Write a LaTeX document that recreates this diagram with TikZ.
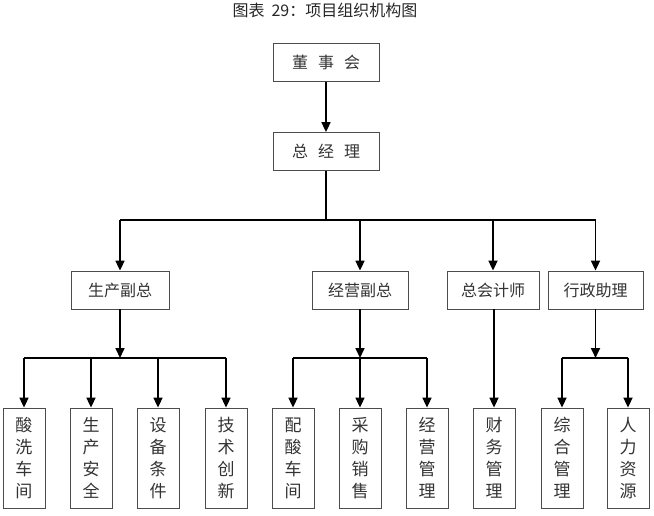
\documentclass[tikz,border=0pt]{standalone}
\usepackage{fontspec}
\setmainfont{Noto Sans CJK SC}
\usetikzlibrary{arrows.meta}

\tikzset{
  box/.style={draw=black!70, line width=0.8pt, inner sep=0pt, minimum height=38pt,
    text=black!80, font=\fontsize{16}{16}\selectfont},
  tallbox/.style={draw=black!70, line width=0.8pt, inner sep=0pt, minimum width=42pt,
    minimum height=100pt, align=center, text=black!80, font=\fontsize{17}{22}\selectfont},
  link/.style={line width=1.7pt},
  bus/.style={line width=2.3pt},
  arr/.style={line width=1.7pt, -{Triangle[length=10pt,width=9pt]}},
}

\begin{document}
\begin{tikzpicture}[x=1pt,y=-1pt]
        \useasboundingbox (0,0) rectangle (654,515);

        \node[text=black!85, font=\fontsize{16}{16}\selectfont] (title) at (325,10) {图表\hspace{7pt}29：项目组织机构图};

        \begin{scope}[every node/.style={box}]
          \node[minimum width=106pt] (dsh)  at (326,62.5)  {董\hspace{10pt}事\hspace{10pt}会};
          \node[minimum width=106pt] (zjl)  at (326,151.5) {总\hspace{10pt}经\hspace{10pt}理};
          \node[minimum width=98pt]  (scfz) at (120,290)   {生产副总};
          \node[minimum width=96pt]  (jyfz) at (360,290)   {经营副总};
          \node[minimum width=92pt]  (zkjs) at (493,290)   {总会计师};
          \node[minimum width=95pt]  (xzzl) at (595.5,290) {行政助理};
        \end{scope}

        \begin{scope}[every node/.style={tallbox}]
          \node (sxcj) at (24,458)  {酸\\洗\\车\\间};
          \node (scaq) at (91,458)  {生\\产\\安\\全};
          \node (sbtj) at (158,458) {设\\备\\条\\件};
          \node (jscx) at (226,458) {技\\术\\创\\新};
          \node (pscj) at (293,458) {配\\酸\\车\\间};
          \node (cgxs) at (360,458) {采\\购\\销\\售};
          \node (jygl) at (427,458) {经\\营\\管\\理};
          \node (cwgl) at (494,458) {财\\务\\管\\理};
          \node (zhgl) at (562,458) {综\\合\\管\\理};
          \node (rlzy) at (628,458) {人\\力\\资\\源};
        \end{scope}

        % bus lines
        \coordinate (top)  at (326,220);
        \coordinate (topL) at (120,220);
        \coordinate (topR) at (595.5,220);
        \coordinate (scb)  at (120,358);
        \coordinate (jyb)  at (360,358);
        \coordinate (xzb)  at (595.5,358);

        \draw[link] (zjl) -- (top);
        \draw[link] (topL) -- (topR);
        \draw[bus] (sxcj |- scb) -- (jscx |- scb);
        \draw[link] (pscj |- jyb) -- (jygl |- jyb);
        \draw[link] (zhgl |- xzb) -- (rlzy |- xzb);

        \begin{scope}[every edge/.style={draw, arr}]
          \path (dsh)  edge (zjl);
          \path (topL) edge (scfz);
          \path (jyfz |- top) edge (jyfz);
          \path (zkjs |- top) edge (zkjs);
          \path (topR) edge (xzzl);
          \path (scfz) edge (scb);
          \path (jyfz) edge (jyb);
          \path (xzzl) edge (xzb);
          \path (zkjs.south -| cwgl) edge (cwgl);
          \path (sxcj |- scb) edge (sxcj);
          \path (scaq |- scb) edge (scaq);
          \path (sbtj |- scb) edge (sbtj);
          \path (jscx |- scb) edge (jscx);
          \path (pscj |- jyb) edge (pscj);
          \path (cgxs |- jyb) edge (cgxs);
          \path (jygl |- jyb) edge (jygl);
          \path (zhgl |- xzb) edge (zhgl);
          \path (rlzy |- xzb) edge (rlzy);
        \end{scope}

      \end{tikzpicture}
\end{document}
